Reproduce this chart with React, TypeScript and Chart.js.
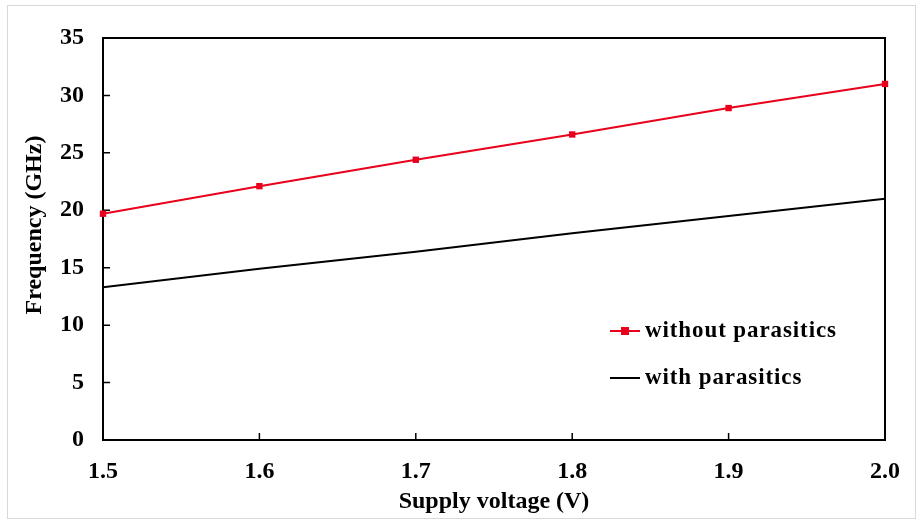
import React, { useEffect, useRef } from "react";
import { Chart, registerables } from "chart.js";

Chart.register(...registerables);

const voltages = [1.5, 1.6, 1.7, 1.8, 1.9, 2.0];
const withoutParasitics = [19.7, 22.1, 24.4, 26.6, 28.9, 31.0];
const withParasitics = [13.3, 14.9, 16.4, 18.0, 19.5, 21.0];
const xTicks = [1.5, 1.6, 1.7, 1.8, 1.9, 2.0];
const yTicks = [0, 5, 10, 15, 20, 25, 30, 35];
const yTitle = "Frequency (GHz)";
const xTitle = "Supply voltage (V)";

const RED = "rgb(232,0,28)";
const FONT = "'Liberation Serif', 'Times New Roman', serif";

const frameAndTicks = {
  id: "frameAndTicks",
  beforeDatasetsDraw(chart: any) {
    const { ctx, chartArea: a, scales } = chart;
    ctx.save();
    ctx.strokeStyle = "#000";
    ctx.lineWidth = 2;
    ctx.strokeRect(a.left, a.top, a.right - a.left, a.bottom - a.top);
    ctx.lineWidth = 1.5;
    ctx.beginPath();
    for (const v of yTicks) {
      const y = scales.y.getPixelForValue(v);
      ctx.moveTo(a.left, y);
      ctx.lineTo(a.left + 7, y);
    }
    for (const v of xTicks) {
      const x = scales.x.getPixelForValue(v);
      ctx.moveTo(x, a.bottom);
      ctx.lineTo(x, a.bottom - 7);
    }
    ctx.stroke();
    ctx.restore();
  },
};

const yTitlePlugin = {
  id: "yTitle",
  afterDraw(chart: any) {
    const { ctx } = chart;
    ctx.save();
    ctx.translate(35, 225);
    ctx.rotate(-Math.PI / 2);
    ctx.fillStyle = "#000";
    ctx.font = `bold 24px ${FONT}`;
    ctx.textAlign = "center";
    ctx.textBaseline = "middle";
    ctx.fillText(yTitle, 0, 0);
    ctx.restore();
  },
};

const legendPlugin = {
  id: "customLegend",
  afterDraw(chart: any) {
    const { ctx } = chart;
    const items = [
      { label: "without parasitics", color: RED, marker: true, y: 331 },
      { label: "with parasitics", color: "#000", marker: false, y: 378 },
    ];
    ctx.save();
    for (const it of items) {
      ctx.strokeStyle = it.color;
      ctx.lineWidth = 2;
      ctx.beginPath();
      ctx.moveTo(610, it.y);
      ctx.lineTo(640, it.y);
      ctx.stroke();
      if (it.marker) {
        ctx.fillStyle = it.color;
        ctx.fillRect(621, it.y - 4, 8, 8);
      }
      ctx.fillStyle = "#000";
      ctx.font = `bold 23px ${FONT}`;
      (ctx as any).letterSpacing = "0.9px";
      ctx.textBaseline = "middle";
      ctx.textAlign = "left";
      ctx.fillText(it.label, 645, it.y);
    }
    ctx.restore();
  },
};

export default function App() {
  const ref = useRef<HTMLCanvasElement>(null);
  useEffect(() => {
    if (!ref.current) return;
    const chart = new Chart(ref.current, {
      type: "line",
      data: {
        datasets: [
          {
            label: "without parasitics",
            data: voltages.map((v, i) => ({ x: v, y: withoutParasitics[i] })),
            borderColor: RED,
            backgroundColor: RED,
            borderWidth: 2,
            pointStyle: "rect",
            pointRadius: 4.5,
            pointBorderWidth: 0,
            clip: false,
          },
          {
            label: "with parasitics",
            data: voltages.map((v, i) => ({ x: v, y: withParasitics[i] })),
            borderColor: "#000",
            backgroundColor: "#000",
            borderWidth: 2,
            pointRadius: 0,
          },
        ],
      },
      options: {
        animation: false,
        responsive: false,
        maintainAspectRatio: false,
        layout: { padding: { left: 0, top: 38, right: 36, bottom: 0 } },
        plugins: { legend: { display: false }, tooltip: { enabled: false } },
        scales: {
          x: {
            type: "linear",
            min: 1.5,
            max: 2.0,
            afterBuildTicks: (s: any) => {
              s.ticks = xTicks.map((v) => ({ value: v }));
            },
            afterFit: (s: any) => {
              s.height = 82;
            },
            grid: { display: false, drawTicks: false },
            border: { display: false },
            ticks: {
              padding: 17,
              color: "#000",
              font: { family: FONT, size: 24, weight: "bold" },
              callback: (v: any) => Number(v).toFixed(1),
              maxRotation: 0,
            },
            title: {
              display: true,
              text: xTitle,
              color: "#000",
              font: { family: FONT, size: 24, weight: "bold" },
              padding: { top: 6, bottom: 6 },
            },
          },
          y: {
            min: 0,
            max: 35,
            afterBuildTicks: (s: any) => {
              s.ticks = yTicks.map((v) => ({ value: v }));
            },
            afterFit: (s: any) => {
              s.width = 103;
            },
            grid: { display: false, drawTicks: false },
            border: { display: false },
            ticks: {
              padding: 19,
              color: "#000",
              font: { family: FONT, size: 24, weight: "bold" },
            },
            title: { display: false },
          },
        },
      },
      plugins: [frameAndTicks, yTitlePlugin, legendPlugin],
    });
    return () => chart.destroy();
  }, []);
  return (
    <div style={{ position: "fixed", left: 0, top: 0, width: 921, height: 522, background: "#fff" }}>
      <div
        style={{
          position: "absolute",
          left: 7,
          top: 5,
          width: 909,
          height: 514,
          border: "1px solid #d9d9d9",
          boxSizing: "border-box",
        }}
      />
      <canvas ref={ref} width={921} height={522} style={{ position: "absolute", left: 0, top: 0 }} />
    </div>
  );
}
